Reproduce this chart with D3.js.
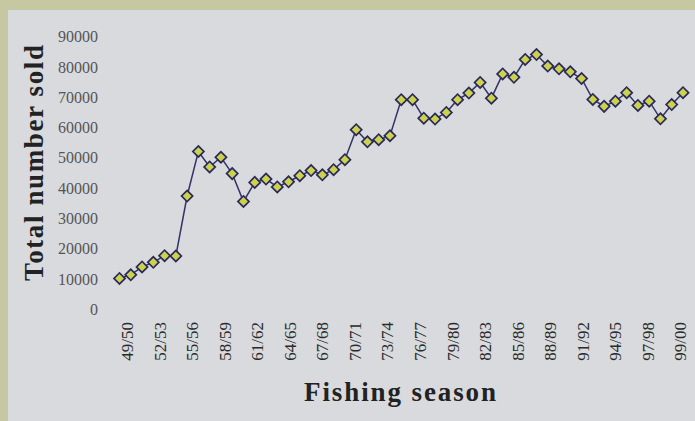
<!DOCTYPE html>
<html>
<head>
<meta charset="utf-8">
<script src="https://cdn.jsdelivr.net/npm/d3@7"></script>
<style>
  html, body { margin: 0; padding: 0; background: #c6c8a2; }
  svg { display: block; }
</style>
</head>
<body>
<div id="chart"></div>
<script>
// seasons 49/50 .. 99/00
var seasons = [];
for (var yr = 49; yr <= 99; yr++) {
  seasons.push(String(yr).padStart(2, "0") + "/" + String((yr + 1) % 100).padStart(2, "0"));
}

// total licences sold per season
var sold = [10200, 11400, 14000, 15500, 17700, 17600, 37400, 52100, 47000, 50200,
            44800, 35600, 41900, 43000, 40400, 42100, 44100, 45800, 44400, 46100,
            49400, 59300, 55300, 56000, 57300, 69200, 69200, 63100, 62800, 65000,
            69200, 71400, 74900, 69700, 77700, 76600, 82500, 84100, 80300, 79400,
            78400, 76200, 69300, 67000, 68700, 71500, 67300, 68700, 62900, 67600,
            71500];

var tickLabels = ["49/50", "52/53", "55/56", "58/59", "61/62", "64/65", "67/68", "70/71", "73/74",
                  "76/77", "79/80", "82/83", "85/86", "88/89", "91/92", "94/95", "97/98", "99/00"];
var yTicks = [0, 10000, 20000, 30000, 40000, 50000, 60000, 70000, 80000, 90000];

var W = 695, H = 421;

var svg = d3.select("#chart").append("svg")
    .attr("width", W)
    .attr("height", H);

// grey panel, olive frame shows at top and left
svg.append("rect")
    .attr("x", 8).attr("y", 10)
    .attr("width", W - 8).attr("height", H - 10)
    .attr("fill", "#d8dadd");

var x = d3.scalePoint()
    .domain(seasons)
    .range([119.5, 683]);

var y = d3.scaleLinear()
    .domain([0, 90000])
    .range([309.3, 36.7]);

// tick labels sit evenly along the bottom
var xLab = d3.scalePoint()
    .domain(tickLabels)
    .range([126.5, 680]);

var serif = "'Liberation Serif', 'DejaVu Serif', serif";

// y axis (labels only, no line)
var yAxis = svg.append("g")
    .attr("transform", "translate(98,0)")
    .call(d3.axisLeft(y).tickValues(yTicks).tickSize(0).tickPadding(0).tickFormat(d3.format("d")));
yAxis.select(".domain").remove();
yAxis.selectAll("text")
    .attr("font-family", serif)
    .attr("font-size", 16)
    .attr("fill", "#555");

// x axis labels, rotated
var xAxis = svg.append("g")
    .attr("transform", "translate(0,322)")
    .call(d3.axisBottom(xLab).tickSize(0).tickPadding(0));
xAxis.select(".domain").remove();
xAxis.selectAll("text")
    .attr("font-family", serif)
    .attr("font-size", 17)
    .attr("fill", "#2a2a2a")
    .attr("text-anchor", "end")
    .attr("transform", "rotate(-90)")
    .attr("x", 0)
    .attr("y", 0)
    .attr("dy", "0.35em");

// axis titles
svg.append("text")
    .attr("transform", "translate(43,163) rotate(-90)")
    .attr("text-anchor", "middle")
    .attr("font-family", serif)
    .attr("font-weight", "bold")
    .attr("font-size", 27)
    .attr("fill", "#222")
    .attr("textLength", 236)
    .attr("lengthAdjust", "spacing")
    .text("Total number sold");

svg.append("text")
    .attr("x", 400)
    .attr("y", 401)
    .attr("text-anchor", "middle")
    .attr("font-family", serif)
    .attr("font-weight", "bold")
    .attr("font-size", 27)
    .attr("fill", "#222")
    .attr("textLength", 192)
    .attr("lengthAdjust", "spacing")
    .text("Fishing season");

// the line
var line = d3.line()
    .x(function(d, i) { return x(seasons[i]); })
    .y(function(d) { return y(d); });

svg.append("path")
    .datum(sold)
    .attr("d", line)
    .attr("fill", "none")
    .attr("stroke", "#33336a")
    .attr("stroke-width", 1.5);

// diamond markers
var diamond = d3.symbol().type(d3.symbolSquare).size(62);

svg.selectAll("path.pt")
    .data(sold)
    .enter().append("path")
    .attr("class", "pt")
    .attr("d", diamond)
    .attr("transform", function(d, i) {
      return "translate(" + x(seasons[i]) + "," + y(d) + ") rotate(45)";
    })
    .attr("fill", "#cdd24e")
    .attr("stroke", "#2a2a5a")
    .attr("stroke-width", 1.7);
</script>
</body>
</html>
